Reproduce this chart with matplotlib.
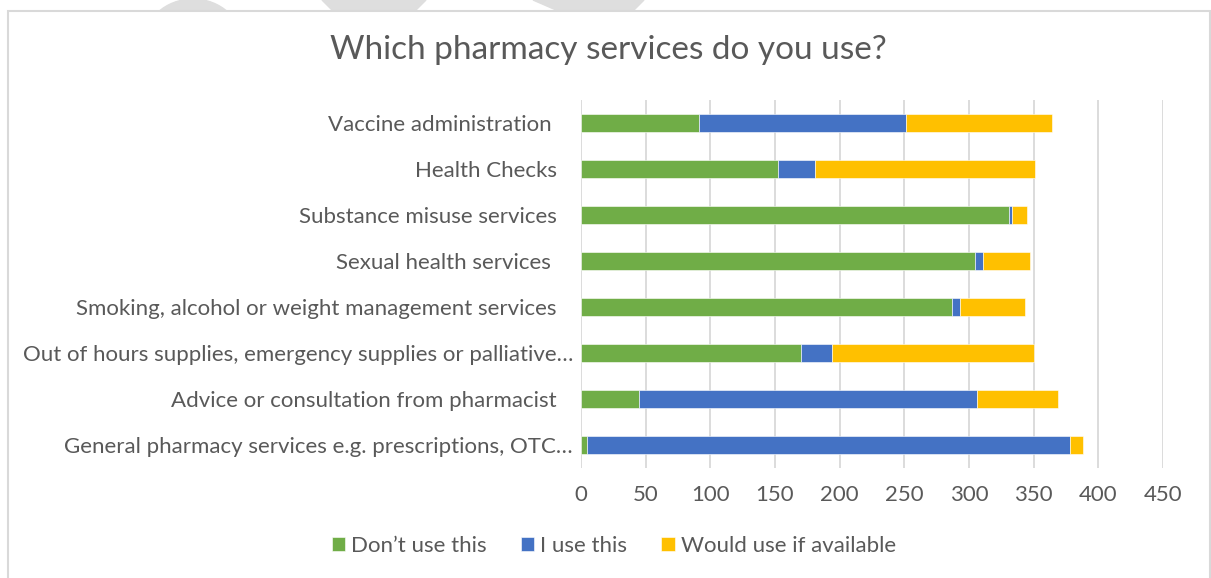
import matplotlib
matplotlib.use("Agg")
import matplotlib.pyplot as plt
from matplotlib.patches import Rectangle, Polygon, Ellipse
from matplotlib.transforms import ScaledTranslation
import numpy as np

# Survey responses per pharmacy service (listed bottom to top)
categories = [
    "General pharmacy services e.g. prescriptions, OTC\u2026",
    "Advice or consultation from pharmacist",
    "Out of hours supplies, emergency supplies or palliative\u2026",
    "Smoking, alcohol or weight management services",
    "Sexual health services ",
    "Substance misuse services",
    "Health Checks",
    "Vaccine administration ",
]
dont_use = [5, 45, 170, 287, 305, 331, 152, 91]
i_use = [373, 261, 24, 6, 6, 2, 29, 160]
would_use = [10, 63, 156, 50, 36, 12, 170, 113]

series_names = ["Don\u2019t use this", "I use this", "Would use if available"]
series_colors = ["#70AD47", "#4472C4", "#FFC000"]
x_ticks = [0, 50, 100, 150, 200, 250, 300, 350, 400, 450]

W, H = 1211, 578
fig = plt.figure(figsize=(W / 100, H / 100), dpi=100)
fig.patch.set_facecolor("white")

TEXT = "#595959"
GRID = "#D9D9D9"
FONT = "Lato"
FS = 16

# faint background shapes peeking above the chart frame
wm = "#DEDEDE"
fig.add_artist(Ellipse((193 / W, 1 - 45 / H), 100 / W, 92 / H,
                       transform=fig.transFigure, color=wm, zorder=0))
fig.add_artist(Polygon([(322 / W, 1.0), (426 / W, 1.0), (416 / W, 1 - 10 / H), (332 / W, 1 - 10 / H)],
                       closed=True, transform=fig.transFigure, color=wm, zorder=0))
fig.add_artist(Polygon([(533 / W, 1.0), (644 / W, 1.0), (634 / W, 1 - 10 / H), (556 / W, 1 - 10 / H)],
                       closed=True, transform=fig.transFigure, color=wm, zorder=0))
# white chart area with light border (open at the bottom edge)
fig.add_artist(Rectangle((8 / W, -0.01), (1210 - 8) / W, 1 - 10.5 / H + 0.01,
                         transform=fig.transFigure, facecolor="white",
                         edgecolor="#D9D9D9", linewidth=1.5, zorder=1))

ax_left, ax_right = 581, 1163
ax_top, ax_bottom = 100, 468
ax = fig.add_axes([ax_left / W, 1 - ax_bottom / H, (ax_right - ax_left) / W, (ax_bottom - ax_top) / H])
ax.set_zorder(2)
ax.patch.set_alpha(0)

y = np.arange(len(categories))
left = np.zeros(len(categories))
for vals, name, col in zip([dont_use, i_use, would_use], series_names, series_colors):
    ax.barh(y, vals, left=left, height=0.41, color=col, label=name,
            edgecolor="white", linewidth=0.4, zorder=3)
    left = left + np.array(vals)

ax.set_xlim(0, 450)
ax.set_ylim(-0.5, len(categories) - 0.5)
ax.set_xticks(x_ticks)
ax.set_xticklabels([str(t) for t in x_ticks])
ax.grid(axis="x", color=GRID, linewidth=1.3, zorder=0)
ax.set_axisbelow(True)
for s in ax.spines.values():
    s.set_visible(False)

ax.tick_params(axis="x", length=0, pad=12, labelsize=FS, labelcolor=TEXT)
ax.tick_params(axis="y", length=0, pad=17.3, labelsize=FS, labelcolor=TEXT)
for lbl in ax.get_xticklabels():
    lbl.set_fontfamily(FONT)
ax.set_yticks(y)
ax.set_yticklabels(categories, fontfamily=FONT)
# truncated labels sit closer to the axis
for lbl in ax.get_yticklabels():
    if lbl.get_text().endswith("\u2026"):
        lbl.set_transform(lbl.get_transform() + ScaledTranslation(16 / 100, 0, fig.dpi_scale_trans))

fig.text(608 / W, 1 - 50 / H, "Which pharmacy services do you use?",
         ha="center", va="center", fontsize=24, color=TEXT,
         fontfamily=FONT, fontweight="normal", zorder=5)

leg = fig.legend(loc="center", bbox_to_anchor=(614 / W, 1 - 546 / H), ncol=3,
                 frameon=False, labelcolor=TEXT,
                 handlelength=0.59, handleheight=0.59, handletextpad=0.28,
                 columnspacing=1.53, prop={"family": FONT, "size": FS})
leg.set_zorder(5)

fig.savefig("out.png", dpi=100, facecolor="white")
